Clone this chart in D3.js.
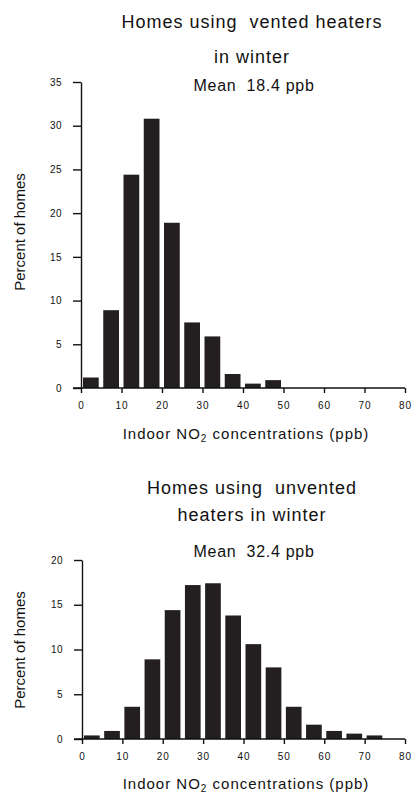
<!DOCTYPE html>
<html>
<head>
<meta charset="utf-8">
<script src="https://cdn.jsdelivr.net/npm/d3@7"></script>
<style>
  body { margin: 0; background: #fff; }
  svg { display: block; font-family: "Liberation Sans", Arial, sans-serif; }
</style>
</head>
<body>
<div id="chart"></div>
<script>
// bins of 5 ppb, value = percent of homes in that bin
var binStarts = [0, 5, 10, 15, 20, 25, 30, 35, 40, 45, 50, 55, 60, 65, 70, 75];
var binWidth = 5;
var ventedValues = [1.2, 8.9, 24.4, 30.8, 18.9, 7.5, 5.9, 1.6, 0.5, 0.9, 0, 0, 0, 0, 0, 0];
var unventedValues = [0.4, 0.9, 3.6, 8.9, 14.4, 17.2, 17.4, 13.8, 10.6, 8.0, 3.6, 1.6, 0.9, 0.6, 0.4, 0];
var xTicks = [0, 10, 20, 30, 40, 50, 60, 70, 80];
var ventedYTicks = [0, 5, 10, 15, 20, 25, 30, 35];
var unventedYTicks = [0, 5, 10, 15, 20];
var ventedTitle = ["Homes using  vented heaters", "in winter"];
var unventedTitle = ["Homes using  unvented", "heaters in winter"];
var ventedMean = "Mean  18.4 ppb";
var unventedMean = "Mean  32.4 ppb";

var W = 412, H = 797;
var barColor = "#231f20";

var svg = d3.select("#chart").append("svg")
  .attr("width", W)
  .attr("height", H);

// draws one histogram panel
function drawPanel(opts) {
  var x = d3.scaleLinear().domain([0, 80]).range([opts.left, opts.right]);
  var y = d3.scaleLinear().domain([0, opts.yMax]).range([opts.bottom, opts.top]);
  var g = svg.append("g");

  // titles
  opts.title.forEach(function(t, i) {
    g.append("text")
      .attr("x", 252)
      .attr("y", opts.titleY[i])
      .attr("text-anchor", "middle")
      .style("font-size", "18px")
      .style("letter-spacing", "1px")
      .style("white-space", "pre")
      .attr("fill", "#111")
      .text(t);
  });
  g.append("text")
    .attr("x", 254)
    .attr("y", opts.meanY)
    .attr("text-anchor", "middle")
    .style("font-size", "16px")
    .style("letter-spacing", "0.7px")
    .style("white-space", "pre")
    .attr("fill", "#111")
    .text(opts.mean);

  // bars
  var rows = binStarts.map(function(b, i) { return { lo: b, hi: b + binWidth, v: opts.values[i] }; });
  g.selectAll("rect.bar").data(rows.filter(function(d) { return d.v > 0; }))
    .enter().append("rect")
    .attr("class", "bar")
    .attr("x", function(d) { return x(d.lo) + 2; })
    .attr("width", function(d) { return x(d.hi) - x(d.lo) - 4.5; })
    .attr("y", function(d) { return y(d.v); })
    .attr("height", function(d) { return y(0) - y(d.v); })
    .attr("fill", barColor);

  // y axis
  var yAxis = g.append("g")
    .attr("transform", "translate(" + opts.left + ",0)")
    .call(d3.axisLeft(y).tickValues(opts.yTicks).tickSize(8).tickPadding(11).tickSizeOuter(0));
  yAxis.select(".domain").attr("stroke", "#111").attr("stroke-width", 1.4);
  yAxis.selectAll(".tick line").attr("stroke", "#111").attr("stroke-width", 1.4);
  yAxis.selectAll(".tick text")
    .style("font-family", "\"Liberation Sans\", Arial, sans-serif")
    .style("font-size", "10px")
    .style("letter-spacing", "0.5px")
    .attr("fill", "#111");

  // x axis
  var xAxis = g.append("g")
    .attr("transform", "translate(0," + opts.bottom + ")")
    .call(d3.axisBottom(x).tickValues(xTicks).tickSize(5).tickPadding(9).tickSizeOuter(0));
  xAxis.select(".domain")
    .attr("d", "M" + (opts.left - 8) + ",0H" + opts.right)
    .attr("stroke", "#111").attr("stroke-width", 1.6);
  xAxis.selectAll(".tick line").attr("stroke", "#111").attr("stroke-width", 1.4);
  xAxis.selectAll(".tick text")
    .style("font-family", "\"Liberation Sans\", Arial, sans-serif")
    .style("font-size", "10px")
    .style("letter-spacing", "1px")
    .attr("fill", "#111");

  // x axis title with subscript
  var xt = g.append("text")
    .attr("x", 246)
    .attr("y", opts.xTitleY)
    .attr("text-anchor", "middle")
    .style("font-size", "15px")
    .style("letter-spacing", "1px")
    .attr("fill", "#111");
  xt.append("tspan").text("Indoor NO");
  xt.append("tspan").attr("dy", 3).style("font-size", "10px").text("2");
  xt.append("tspan").attr("dy", -3).text(" concentrations (ppb)");

  // y axis title
  g.append("text")
    .attr("transform", "translate(25," + opts.yTitleY + ") rotate(-90)")
    .attr("text-anchor", "middle")
    .style("font-size", "15px")
    .attr("fill", "#111")
    .text("Percent of homes");
}

drawPanel({
  values: ventedValues, yMax: 35, yTicks: ventedYTicks,
  left: 81, right: 405, top: 82, bottom: 388,
  title: ventedTitle, titleY: [28, 63], mean: ventedMean, meanY: 91,
  xTitleY: 439, yTitleY: 232
});

drawPanel({
  values: unventedValues, yMax: 20, yTicks: unventedYTicks,
  left: 82, right: 405, top: 560, bottom: 739,
  title: unventedTitle, titleY: [494, 521], mean: unventedMean, meanY: 557,
  xTitleY: 789, yTitleY: 650
});
</script>
</body>
</html>
